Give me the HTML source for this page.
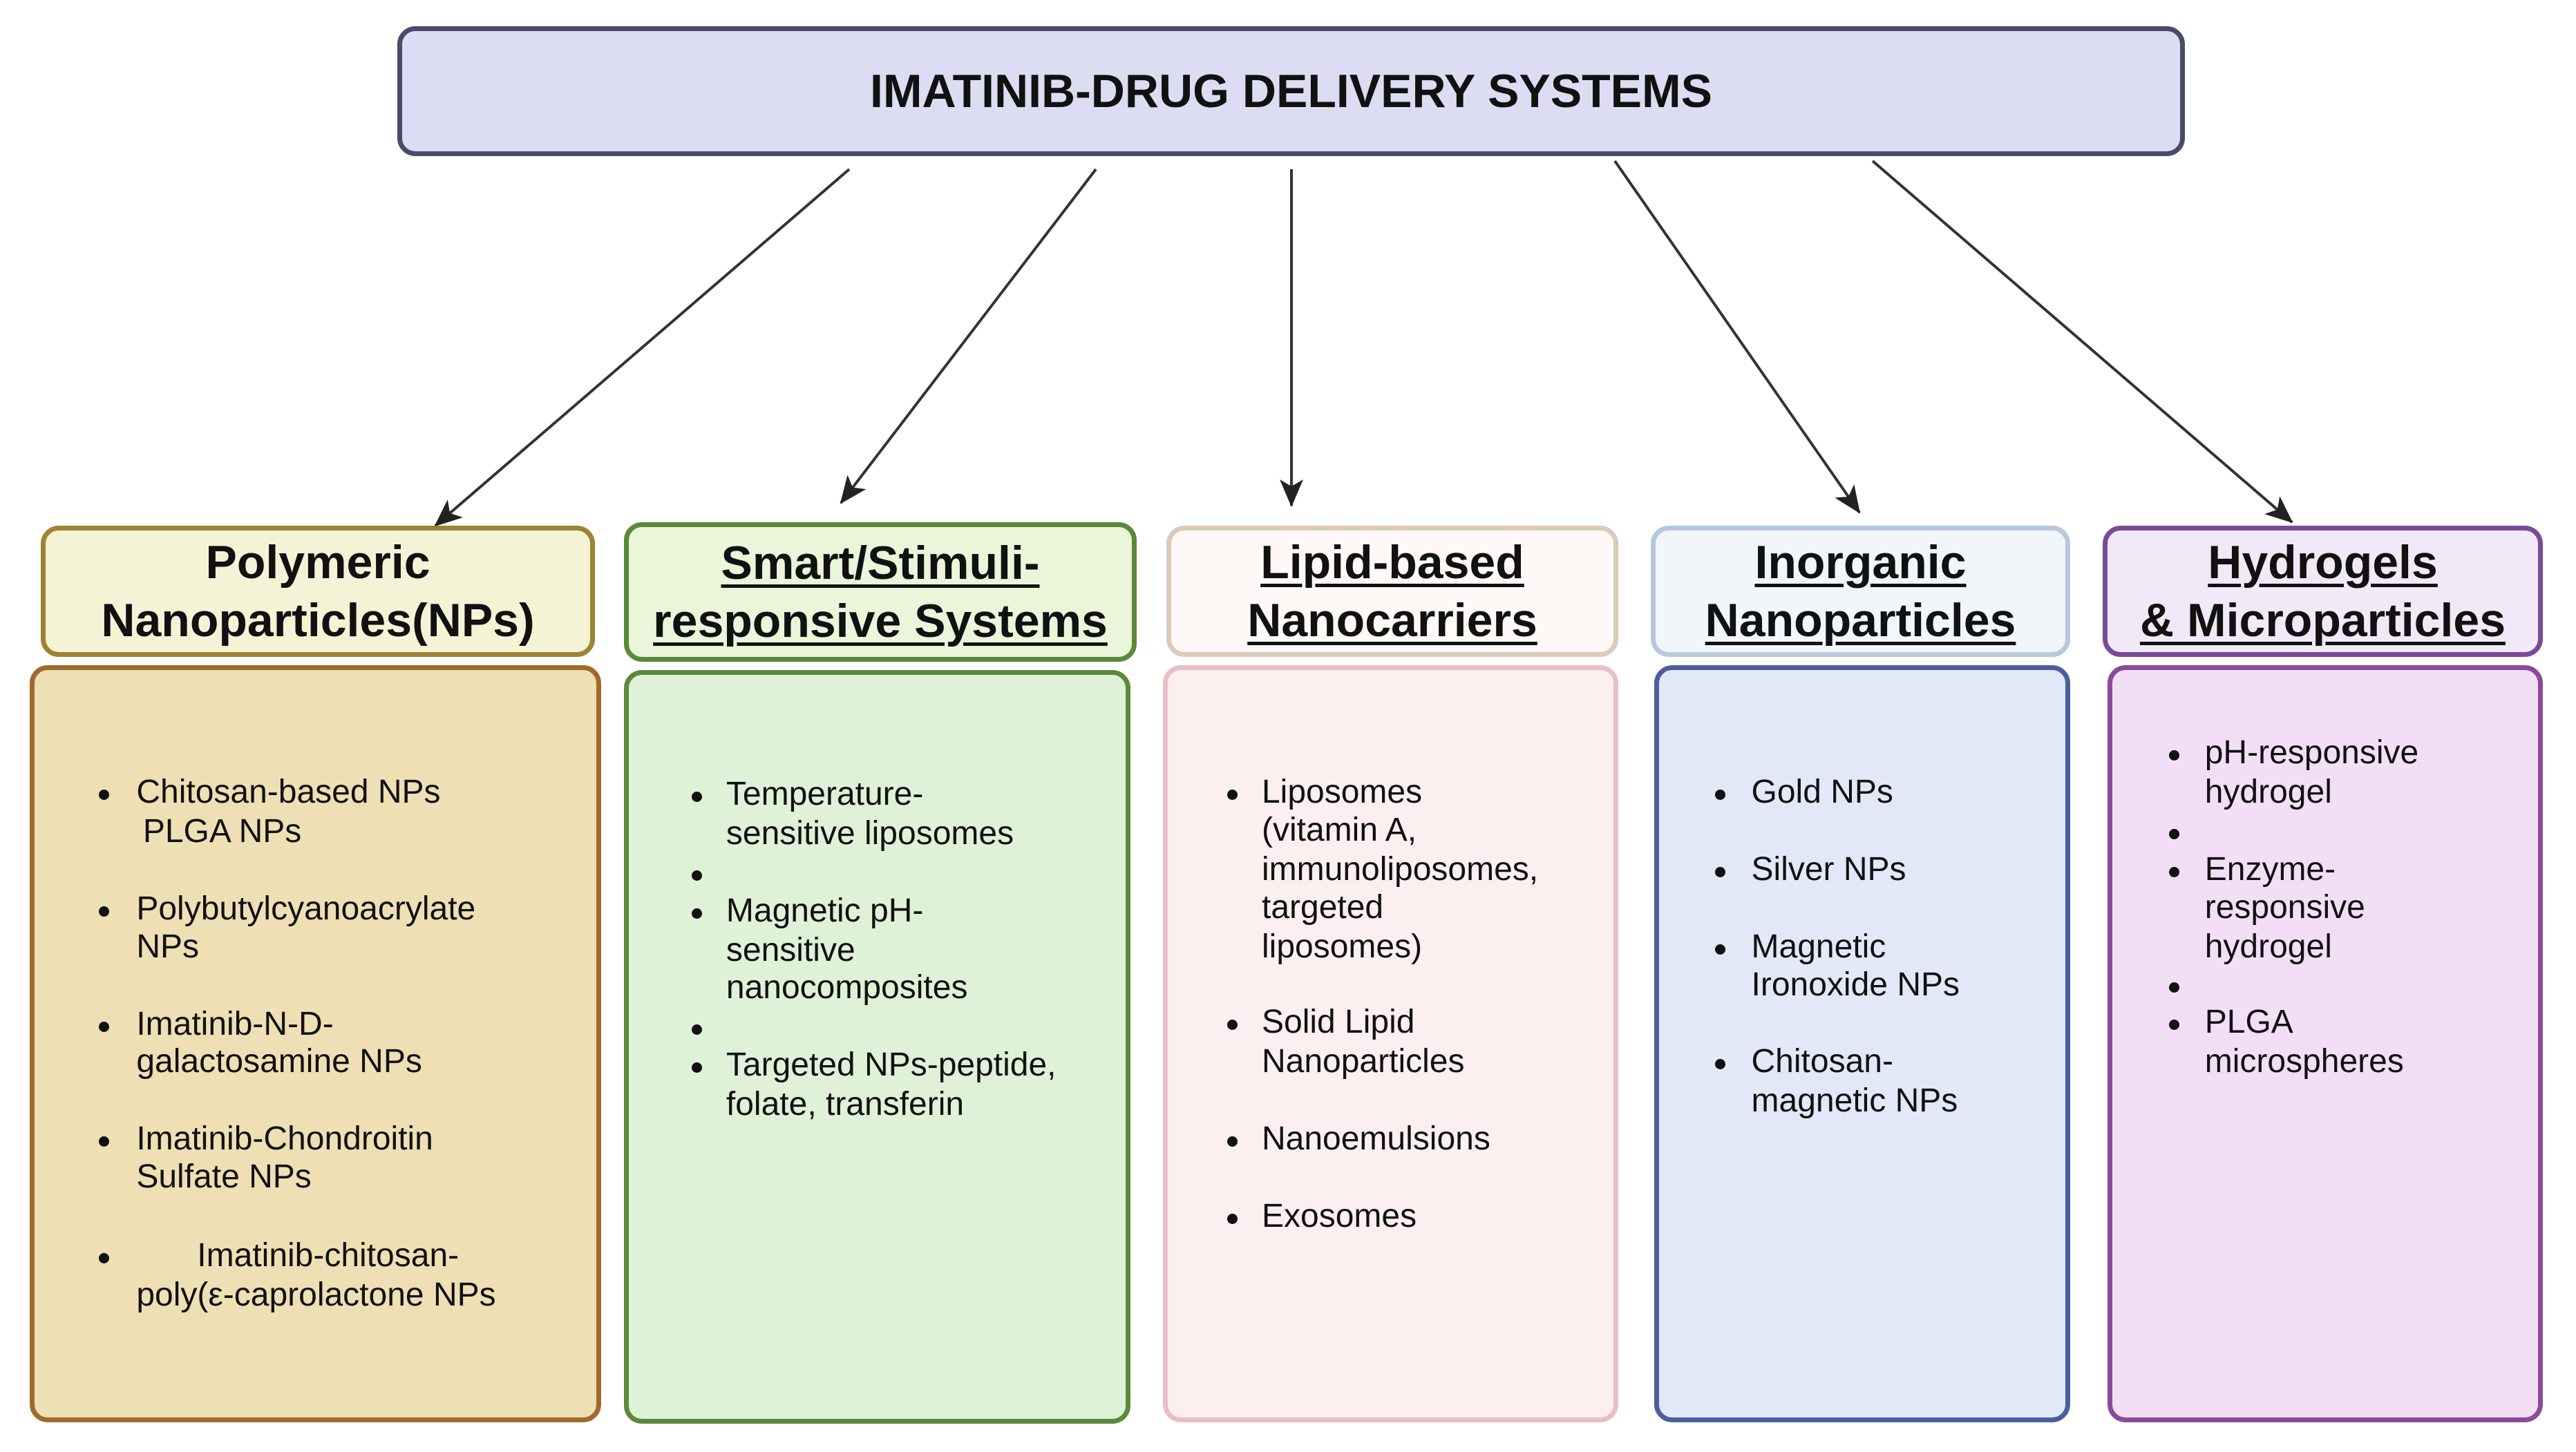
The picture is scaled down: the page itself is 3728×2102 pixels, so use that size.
<!DOCTYPE html>
<html><head><meta charset="utf-8"><style>
html,body{margin:0;padding:0;background:#fff;}
body{width:3728px;height:2102px;position:relative;overflow:hidden;font-family:"Liberation Sans",sans-serif;color:#111;}
.b{position:absolute;box-sizing:border-box;border-width:7px;border-style:solid;border-radius:26px;}
.h{display:flex;flex-direction:column;align-items:center;justify-content:center;font-weight:bold;font-size:68px;line-height:84px;text-align:center;}
.h.u span{text-decoration:underline;text-decoration-thickness:5px;text-underline-offset:8px;}
.t{position:absolute;font-size:48px;white-space:nowrap;left:calc(var(--x)*2.3776px);top:calc(var(--y)*2.3776px - 29px);line-height:56px;}
.d{position:absolute;width:15px;height:15px;border-radius:50%;background:#111;left:calc(var(--x)*2.3776px - 7px);top:calc(var(--y)*2.3776px - 5px);}
</style></head><body>
<div class="b h" style="left:575px;top:38px;width:2587px;height:188px;background:#dcdcf2;border-color:#4a4a6a;font-size:68px;">IMATINIB-DRUG DELIVERY SYSTEMS</div>

<svg width="3728" height="2102" style="position:absolute;left:0;top:0" viewBox="0 0 3728 2102">
<defs><marker id="a" markerWidth="40" markerHeight="34" refX="38" refY="17" orient="auto" markerUnits="userSpaceOnUse" viewBox="0 0 40 34"><path d="M0,0 L40,17 L0,34 L10,17 z" fill="#222"/></marker></defs>
<g stroke="#333" stroke-width="4" fill="none">
<line x1="1229" y1="245" x2="630" y2="761" marker-end="url(#a)"/>
<line x1="1586" y1="245" x2="1217" y2="728" marker-end="url(#a)"/>
<line x1="1869" y1="245" x2="1869" y2="732" marker-end="url(#a)"/>
<line x1="2337" y1="233" x2="2691" y2="742" marker-end="url(#a)"/>
<line x1="2710" y1="233" x2="3317" y2="756" marker-end="url(#a)"/>
</g></svg>

<div class="b h" style="left:59px;top:761px;width:802px;height:190px;background:#f5f3d6;border-color:#9c8433;"><span>Polymeric</span><span>Nanoparticles(NPs)</span></div>
<div class="b h u" style="left:903px;top:756px;width:742px;height:202px;background:#eaf5da;border-color:#5a8a38;"><span>Smart/Stimuli-</span><span>responsive Systems</span></div>
<div class="b h u" style="left:1688px;top:761px;width:654px;height:190px;background:#fef9f6;border-color:#dccabc;"><span>Lipid-based </span><span>Nanocarriers</span></div>
<div class="b h u" style="left:2389px;top:761px;width:607px;height:190px;background:#f1f6fb;border-color:#b8c8dc;"><span>Inorganic </span><span>Nanoparticles</span></div>
<div class="b h u" style="left:3043px;top:761px;width:637px;height:190px;background:#f1e9f8;border-color:#7a4a9a;"><span>Hydrogels </span><span>&amp; Microparticles</span></div>

<div class="b" style="left:43px;top:963px;width:827px;height:1096px;background:#efdfb4;border-color:#a0692e;"></div>
<div class="b" style="left:903px;top:970px;width:733px;height:1091px;background:#dff2d8;border-color:#5a8a3a;"></div>
<div class="b" style="left:1683px;top:963px;width:659px;height:1096px;background:#fcefef;border-color:#e8c0c4;"></div>
<div class="b" style="left:2394px;top:963px;width:602px;height:1096px;background:#e2e8f8;border-color:#4a609a;"></div>
<div class="b" style="left:3050px;top:963px;width:630px;height:1096px;background:#f2dff6;border-color:#8a4a9a;"></div>

<!-- col1 -->
<div class="d" style="--x:63;--y:483"></div><div class="t" style="--x:83;--y:483">Chitosan-based NPs</div>
<div class="t" style="--x:87;--y:507">PLGA NPs</div>
<div class="d" style="--x:63;--y:554"></div><div class="t" style="--x:83;--y:554">Polybutylcyanoacrylate</div>
<div class="t" style="--x:83;--y:577">NPs</div>
<div class="d" style="--x:63;--y:624"></div><div class="t" style="--x:83;--y:624">Imatinib-N-D-</div>
<div class="t" style="--x:83;--y:647">galactosamine NPs</div>
<div class="d" style="--x:63;--y:694"></div><div class="t" style="--x:83;--y:694">Imatinib-Chondroitin</div>
<div class="t" style="--x:83;--y:717">Sulfate NPs</div>
<div class="d" style="--x:63;--y:765"></div><div class="t" style="--x:120;--y:765">Imatinib-chitosan-</div>
<div class="t" style="--x:83;--y:789">poly(ε-caprolactone NPs</div>
<!-- col2 -->
<div class="d" style="--x:424;--y:484"></div><div class="t" style="--x:442;--y:484">Temperature-</div>
<div class="t" style="--x:442;--y:508">sensitive liposomes</div>
<div class="d" style="--x:424;--y:532"></div>
<div class="d" style="--x:424;--y:555"></div><div class="t" style="--x:442;--y:555">Magnetic pH-</div>
<div class="t" style="--x:442;--y:579">sensitive</div>
<div class="t" style="--x:442;--y:602">nanocomposites</div>
<div class="d" style="--x:424;--y:626"></div>
<div class="d" style="--x:424;--y:649"></div><div class="t" style="--x:442;--y:649">Targeted NPs-peptide,</div>
<div class="t" style="--x:442;--y:673">folate, transferin</div>
<!-- col3 -->
<div class="d" style="--x:750;--y:483"></div><div class="t" style="--x:768;--y:483">Liposomes</div>
<div class="t" style="--x:768;--y:506">(vitamin A,</div>
<div class="t" style="--x:768;--y:530">immunoliposomes,</div>
<div class="t" style="--x:768;--y:553">targeted</div>
<div class="t" style="--x:768;--y:577">liposomes)</div>
<div class="d" style="--x:750;--y:623"></div><div class="t" style="--x:768;--y:623">Solid Lipid</div>
<div class="t" style="--x:768;--y:647">Nanoparticles</div>
<div class="d" style="--x:750;--y:694"></div><div class="t" style="--x:768;--y:694">Nanoemulsions</div>
<div class="d" style="--x:750;--y:741"></div><div class="t" style="--x:768;--y:741">Exosomes</div>
<!-- col4 -->
<div class="d" style="--x:1047;--y:483"></div><div class="t" style="--x:1066;--y:483">Gold NPs</div>
<div class="d" style="--x:1047;--y:530"></div><div class="t" style="--x:1066;--y:530">Silver NPs</div>
<div class="d" style="--x:1047;--y:577"></div><div class="t" style="--x:1066;--y:577">Magnetic</div>
<div class="t" style="--x:1066;--y:600">Ironoxide NPs</div>
<div class="d" style="--x:1047;--y:647"></div><div class="t" style="--x:1066;--y:647">Chitosan-</div>
<div class="t" style="--x:1066;--y:671">magnetic NPs</div>
<!-- col5 -->
<div class="d" style="--x:1323;--y:459"></div><div class="t" style="--x:1342;--y:459">pH-responsive</div>
<div class="t" style="--x:1342;--y:483">hydrogel</div>
<div class="d" style="--x:1323;--y:507"></div>
<div class="d" style="--x:1323;--y:530"></div><div class="t" style="--x:1342;--y:530">Enzyme-</div>
<div class="t" style="--x:1342;--y:553">responsive</div>
<div class="t" style="--x:1342;--y:577">hydrogel</div>
<div class="d" style="--x:1323;--y:600"></div>
<div class="d" style="--x:1323;--y:623"></div><div class="t" style="--x:1342;--y:623">PLGA</div>
<div class="t" style="--x:1342;--y:647">microspheres</div>
</body></html>
